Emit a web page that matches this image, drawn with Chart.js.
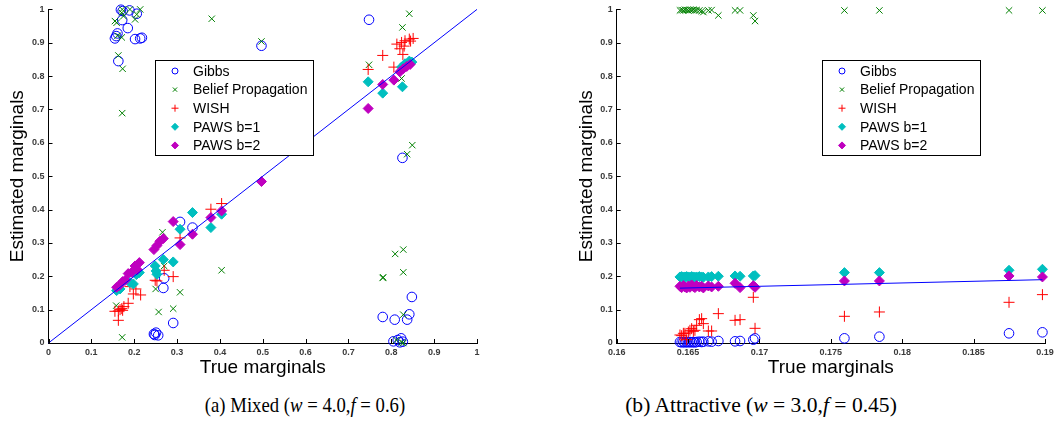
<!DOCTYPE html>
<html>
<head>
<meta charset="utf-8">
<script src="https://cdn.jsdelivr.net/npm/chart.js@4.4.0/dist/chart.umd.min.js"></script>
<style>
  body { margin: 0; background: #fff; width: 1059px; height: 431px; overflow: hidden; position: relative; }
  .plot { position: absolute; top: 0; height: 380px; }
  .caption {
    position: absolute; top: 392px; white-space: nowrap;
    font-family: 'Liberation Serif', 'Times New Roman', serif; font-size: 22px; color: #000;
  }
  #capA { transform: translateX(-50%) scaleX(0.85); }
  #capB { transform: translateX(-50%) scaleX(0.98); }
</style>
</head>
<body>
<div class="plot" style="left:0;width:530px"><canvas id="chartA"></canvas></div>
<div class="plot" style="left:530px;width:529px"><canvas id="chartB"></canvas></div>
<div class="caption" id="capA" style="left:305px">(a) Mixed (<i>w</i> = 4.0,<i>f</i> = 0.6)</div>
<div class="caption" id="capB" style="left:761px">(b) Attractive (<i>w</i> = 3.0,<i>f</i> = 0.45)</div>
<script>
// ---- (a) Mixed: true vs estimated marginals, per method
const gibbsA_x = [0.155, 0.158, 0.161, 0.169, 0.173, 0.172, 0.185, 0.189, 0.202, 0.206, 0.214, 0.218, 0.163, 0.497, 0.748, 0.826,
                  0.848, 0.780, 0.808, 0.837, 0.842, 0.805, 0.815, 0.823, 0.827, 0.820,
                  0.307, 0.336, 0.270, 0.268, 0.291, 0.246, 0.251, 0.256, 0.248];
const gibbsA_y = [0.913, 0.920, 0.928, 0.999, 0.995, 0.968, 0.944, 0.997, 0.911, 0.987, 0.913, 0.915, 0.845, 0.891, 0.969, 0.555,
                  0.138, 0.078, 0.070, 0.070, 0.086, 0.005, 0.009, 0.014, 0.004, 0.002,
                  0.363, 0.346, 0.194, 0.165, 0.060, 0.027, 0.031, 0.023, 0.024];

const bpA_x = [0.155, 0.159, 0.161, 0.171, 0.175, 0.172, 0.171, 0.163, 0.173, 0.172, 0.190, 0.202, 0.206, 0.214, 0.381, 0.497,
               0.842, 0.826, 0.748, 0.824, 0.849, 0.837, 0.828, 0.809, 0.828, 0.780, 0.781, 0.828, 0.812, 0.824, 0.828,
               0.158, 0.172, 0.266, 0.270, 0.250, 0.257, 0.307, 0.291, 0.404];
const bpA_y = [0.965, 0.960, 0.921, 0.990, 0.980, 1.000, 0.916, 0.862, 0.822, 0.689, 1.000, 0.970, 0.985, 1.000, 0.972, 0.904,
               0.987, 0.946, 0.834, 0.793, 0.593, 0.566, 0.280, 0.267, 0.212, 0.195, 0.197, 0.085, 0.009, 0.002, 0.000,
               0.112, 0.017, 0.332, 0.231, 0.162, 0.093, 0.152, 0.103, 0.218];

const wishA_x = [0.155, 0.163, 0.167, 0.171, 0.173, 0.176, 0.163, 0.186, 0.198, 0.204, 0.215, 0.190, 0.249, 0.253, 0.270, 0.291,
                 0.307, 0.379, 0.404, 0.780, 0.806, 0.746, 0.813, 0.824, 0.830, 0.832, 0.842, 0.845, 0.851, 0.820, 0.827];
const wishA_y = [0.095, 0.096, 0.100, 0.103, 0.098, 0.109, 0.068, 0.119, 0.147, 0.162, 0.144, 0.169, 0.188, 0.186, 0.218, 0.199,
                 0.315, 0.401, 0.418, 0.862, 0.827, 0.820, 0.896, 0.901, 0.890, 0.906, 0.911, 0.905, 0.913, 0.882, 0.865];

const paws1A_x = [0.159, 0.162, 0.167, 0.190, 0.198, 0.205, 0.212, 0.249, 0.251, 0.253, 0.268, 0.291, 0.307, 0.336, 0.379, 0.404,
                  0.746, 0.780, 0.826, 0.824, 0.832, 0.842, 0.848];
const paws1A_y = [0.157, 0.165, 0.162, 0.181, 0.177, 0.205, 0.211, 0.231, 0.216, 0.206, 0.250, 0.243, 0.341, 0.391, 0.346, 0.386,
                  0.783, 0.749, 0.768, 0.827, 0.837, 0.845, 0.842];

const paws2A_x = [0.159, 0.165, 0.173, 0.179, 0.186, 0.194, 0.202, 0.207, 0.212, 0.246, 0.253, 0.260, 0.268, 0.291, 0.307, 0.336,
                  0.379, 0.404, 0.497, 0.746, 0.780, 0.806, 0.820, 0.828, 0.836, 0.844];
const paws2A_y = [0.167, 0.172, 0.184, 0.188, 0.208, 0.212, 0.231, 0.220, 0.241, 0.280, 0.292, 0.305, 0.313, 0.364, 0.295, 0.326,
                  0.376, 0.396, 0.484, 0.703, 0.775, 0.788, 0.813, 0.822, 0.829, 0.835];

// ---- (b) Attractive: one shared list of true marginals
const trueB = [0.16443, 0.16455, 0.16467, 0.16478, 0.16490, 0.16502, 0.16513, 0.16525, 0.16537, 0.16548, 0.16560, 0.16579,
               0.16595, 0.16607, 0.16642, 0.16665, 0.16712, 0.16829, 0.16864, 0.16957, 0.16969, 0.17595, 0.17840, 0.18748, 0.18982];
const gibbsB = [0.003, 0.002, 0.003, 0.002, 0.003, 0.002, 0.003, 0.002, 0.003, 0.002, 0.003, 0.004,
                0.003, 0.004, 0.005, 0.004, 0.006, 0.005, 0.006, 0.010, 0.014, 0.014, 0.019, 0.029, 0.032];
const bpB = [0.997, 0.998, 0.997, 0.999, 0.998, 0.997, 0.999, 0.998, 0.999, 0.997, 0.998, 0.997,
             0.995, 0.992, 0.997, 0.998, 0.982, 0.997, 0.997, 0.982, 0.965, 0.997, 0.997, 0.997, 0.997];
const wishB = [0.024, 0.022, 0.029, 0.029, 0.010, 0.033, 0.038, 0.043, 0.035, 0.038, 0.053, 0.070,
               0.073, 0.058, 0.036, 0.036, 0.088, 0.068, 0.070, 0.137, 0.044, 0.080, 0.093, 0.122, 0.145];
const paws1B = [0.198, 0.199, 0.197, 0.198, 0.199, 0.198, 0.197, 0.199, 0.198, 0.197, 0.198, 0.199,
                0.198, 0.197, 0.198, 0.199, 0.200, 0.201, 0.200, 0.201, 0.202, 0.211, 0.211, 0.218, 0.221];
const paws2B = [0.170, 0.166, 0.172, 0.168, 0.165, 0.171, 0.167, 0.174, 0.169, 0.166, 0.172, 0.168,
                0.170, 0.165, 0.171, 0.168, 0.170, 0.179, 0.166, 0.172, 0.167, 0.186, 0.186, 0.201, 0.198];

const methodNames = ['Gibbs', 'Belief Propagation', 'WISH', 'PAWS b=1', 'PAWS b=2'];
const yTicks = [0, 0.1, 0.2, 0.3, 0.4, 0.5, 0.6, 0.7, 0.8, 0.9, 1];

const styles = [
  { pointStyle: 'circle',   radius: 4.8, color: '#0000ff', fill: false, lr: 3 },
  { pointStyle: 'crossRot', radius: 4.5, color: '#008000', fill: false, lr: 3 },
  { pointStyle: 'cross',    radius: 5.5, color: '#ff0000', fill: false, lr: 3.5 },
  { pointStyle: 'rectRot',  radius: 5,   color: '#00bfbf', fill: true,  lr: 3.5 },
  { pointStyle: 'rectRot',  radius: 5,   color: '#bf00bf', fill: true,  lr: 3.5 }
];

const zip = (xs, ys) => xs.map((x, i) => ({ x: x, y: ys[i] }));

function makeDatasets(pairs, diag) {
  const sets = pairs.map((p, i) => ({
    label: methodNames[i],
    data: zip(p[0], p[1]),
    pointStyle: styles[i].pointStyle,
    pointRadius: styles[i].radius,
    pointBorderWidth: 1,
    borderColor: styles[i].color,
    backgroundColor: styles[i].fill ? styles[i].color : 'rgba(0,0,0,0)',
    clip: false,
    order: 10 - i
  }));
  sets.push({
    label: 'diag',
    data: [{ x: diag[0], y: diag[0] }, { x: diag[1], y: diag[1] }],
    showLine: true,
    borderColor: '#0000ff',
    borderWidth: 1,
    pointRadius: 0,
    clip: false,
    order: 1
  });
  return sets;
}

// MATLAB style inward tick marks
const inwardTicks = {
  id: 'inwardTicks',
  afterDatasetsDraw(chart) {
    const { ctx, chartArea, scales } = chart;
    ctx.save();
    ctx.strokeStyle = '#000';
    ctx.lineWidth = 1;
    ctx.beginPath();
    scales.x.ticks.forEach(t => {
      const px = Math.round(scales.x.getPixelForValue(t.value)) + 0.5;
      ctx.moveTo(px, chartArea.bottom);
      ctx.lineTo(px, chartArea.bottom - 4);
    });
    scales.y.ticks.forEach(t => {
      const py = Math.round(scales.y.getPixelForValue(t.value)) + 0.5;
      ctx.moveTo(chartArea.left, py);
      ctx.lineTo(chartArea.left + 4, py);
    });
    ctx.stroke();
    ctx.restore();
  }
};

// boxed legend inside the axes
const boxLegend = {
  id: 'boxLegend',
  afterDraw(chart, args, opts) {
    const ctx = chart.ctx;
    ctx.save();
    ctx.fillStyle = '#fff';
    ctx.strokeStyle = '#000';
    ctx.lineWidth = 1;
    ctx.fillRect(opts.x, opts.y, opts.w, opts.h);
    ctx.strokeRect(opts.x + 0.5, opts.y + 0.5, opts.w, opts.h);
    ctx.font = '14px "Liberation Sans", Arial, sans-serif';
    ctx.textBaseline = 'middle';
    methodNames.forEach((name, i) => {
      const cy = opts.y + 11 + i * 18.6;
      const st = styles[i];
      ctx.strokeStyle = st.color;
      ctx.fillStyle = st.fill ? st.color : 'rgba(0,0,0,0)';
      ctx.lineWidth = 1;
      Chart.helpers.drawPoint(ctx, { pointStyle: st.pointStyle, radius: st.lr, borderWidth: 1, rotation: 0 }, opts.x + 20, cy);
      ctx.fillStyle = '#000';
      ctx.fillText(name, opts.x + 38, cy + 1);
    });
    ctx.restore();
  }
};

function makeChart(id, cfg) {
  return new Chart(document.getElementById(id), {
    type: 'scatter',
    data: { datasets: makeDatasets(cfg.pairs, cfg.diag) },
    options: {
      responsive: true,
      maintainAspectRatio: false,
      animation: false,
      layout: { padding: { left: 0, top: 5, right: cfg.padRight, bottom: 0 } },
      plugins: {
        legend: { display: false },
        tooltip: { enabled: false },
        boxLegend: cfg.legend
      },
      scales: {
        x: {
          type: 'linear',
          min: cfg.xMin, max: cfg.xMax,
          afterBuildTicks: s => { s.ticks = cfg.xTicks.map(v => ({ value: v })); },
          afterFit: s => { s.height = 37; },
          grid: { display: false, drawTicks: false },
          border: { display: true, color: '#000', width: 1 },
          ticks: {
            maxRotation: 0, autoSkip: false, padding: 4,
            color: '#3a3a3a',
            font: { family: '"Liberation Sans", Arial, sans-serif', size: 9, weight: 'bold' },
            callback: v => String(+v.toFixed(3))
          },
          title: {
            display: true, text: 'True marginals', color: '#000',
            font: { family: '"Liberation Sans", Arial, sans-serif', size: 19 },
            padding: { top: 0, bottom: 1 }
          }
        },
        y: {
          type: 'linear',
          min: 0, max: 1,
          afterBuildTicks: s => { s.ticks = yTicks.map(v => ({ value: v })); },
          afterFit: s => { s.width = cfg.yWidth; },
          grid: { display: false, drawTicks: false },
          border: { display: true, color: '#000', width: 1 },
          ticks: {
            padding: 4,
            color: '#3a3a3a',
            font: { family: '"Liberation Sans", Arial, sans-serif', size: 9, weight: 'bold' },
            callback: v => String(+v.toFixed(2))
          },
          title: {
            display: true, text: 'Estimated marginals', color: '#000',
            font: { family: '"Liberation Sans", Arial, sans-serif', size: 19 },
            padding: { top: cfg.yTitlePad, bottom: 0 }
          }
        }
      }
    },
    plugins: [inwardTicks, boxLegend]
  });
}

makeChart('chartA', {
  pairs: [[gibbsA_x, gibbsA_y], [bpA_x, bpA_y], [wishA_x, wishA_y], [paws1A_x, paws1A_y], [paws2A_x, paws2A_y]],
  diag: [0, 1],
  xMin: 0, xMax: 1,
  xTicks: [0, 0.1, 0.2, 0.3, 0.4, 0.5, 0.6, 0.7, 0.8, 0.9, 1],
  padRight: 53, yWidth: 48.5, yTitlePad: 6,
  legend: { x: 155, y: 60, w: 158, h: 95 }
});

makeChart('chartB', {
  pairs: [[trueB, gibbsB], [trueB, bpB], [trueB, wishB], [trueB, paws1B], [trueB, paws2B]],
  diag: [Math.min(...trueB), Math.max(...trueB)],
  xMin: 0.16, xMax: 0.19,
  xTicks: [0.16, 0.165, 0.17, 0.175, 0.18, 0.185, 0.19],
  padRight: 14, yWidth: 86.7, yTitlePad: 45,
  legend: { x: 292, y: 60, w: 158, h: 95 }
});
</script>
</body>
</html>
